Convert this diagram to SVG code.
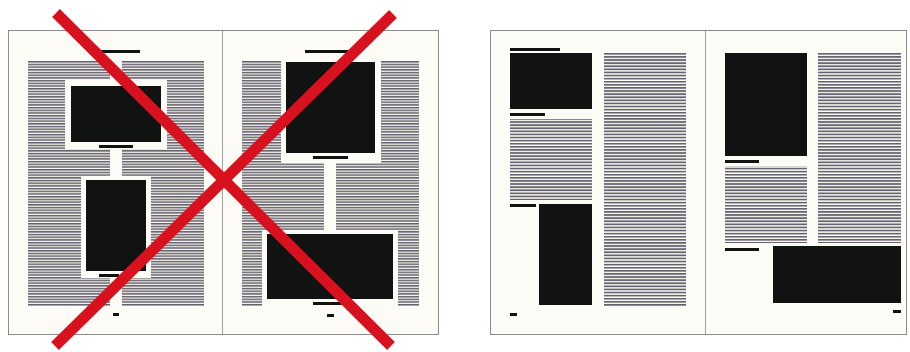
<svg xmlns="http://www.w3.org/2000/svg" width="910" height="352" viewBox="0 0 910 352">
  <defs>
    <pattern id="tA" patternUnits="userSpaceOnUse" x="0" y="61" width="20" height="2.7">
      <rect x="0" y="0" width="20" height="1.5" fill="#625d69"/>
    </pattern>
    <pattern id="tB" patternUnits="userSpaceOnUse" x="0" y="53" width="20" height="3.1">
      <rect x="0" y="0" width="20" height="1.7" fill="#67626d"/>
    </pattern>
  </defs>
  <style>
    .page{fill:#fcfbf5;stroke:#8c8c8c;stroke-width:1}
    .spine{stroke:#a0a0a0;stroke-width:1}
    .ta{fill:url(#tA)}
    .tb{fill:url(#tB)}
    .clear{fill:#fcfbf5}
    .blk{fill:#111212}
    .red{stroke:#d8111f;stroke-width:11;fill:none}
  </style>
  <rect width="910" height="352" fill="#ffffff"/>

  <g id="bad-spread">
    <rect class="page" x="8.5" y="30.5" width="430" height="304"/>
    <line class="spine" x1="222.5" y1="31" x2="222.5" y2="334"/>
    <g id="bad-left-page">
      <rect class="ta" x="28" y="61" width="82" height="245"/>
      <rect class="ta" x="122" y="61" width="82" height="245"/>
      <rect class="clear" x="65" y="80" width="102" height="69"/>
      <rect class="clear" x="81" y="176" width="70" height="102"/>
      <rect class="blk" x="100" y="50" width="40" height="3"/>
      <rect class="blk" x="71" y="86" width="90" height="56"/>
      <rect class="blk" x="99" y="145" width="34" height="3"/>
      <rect class="blk" x="86" y="180" width="60" height="91"/>
      <rect class="blk" x="99" y="274" width="20" height="3"/>
      <rect class="blk" x="113" y="313" width="6" height="3"/>
    </g>
    <g id="bad-right-page">
      <rect class="ta" x="242" y="61" width="82" height="245"/>
      <rect class="ta" x="336" y="61" width="83" height="245"/>
      <rect class="clear" x="281" y="57" width="100" height="106"/>
      <rect class="clear" x="262" y="230" width="136" height="80"/>
      <rect class="blk" x="305" y="50" width="43" height="3"/>
      <rect class="blk" x="286" y="62" width="89" height="91"/>
      <rect class="blk" x="313" y="156" width="35" height="3"/>
      <rect class="blk" x="267" y="234" width="126" height="65"/>
      <rect class="blk" x="313" y="302" width="37" height="3"/>
      <rect class="blk" x="327" y="314" width="7" height="3"/>
    </g>
    <g id="cross">
      <line class="red" x1="56" y1="13" x2="391" y2="346"/>
      <line class="red" x1="393" y1="14" x2="55" y2="346"/>
    </g>
  </g>

  <g id="good-spread">
    <rect class="page" x="490.5" y="30.5" width="416" height="304"/>
    <line class="spine" x1="705.5" y1="31" x2="705.5" y2="334"/>
    <g id="good-left-page">
      <rect class="blk" x="510" y="48" width="50" height="3"/>
      <rect class="blk" x="510" y="53" width="82" height="56"/>
      <rect class="blk" x="510" y="113" width="35" height="3"/>
      <rect class="tb" x="510" y="119" width="82" height="81"/>
      <rect class="blk" x="510" y="204" width="26" height="3"/>
      <rect class="blk" x="539" y="204" width="53" height="101"/>
      <rect class="tb" x="604" y="53" width="82" height="253"/>
      <rect class="blk" x="510" y="313" width="7" height="3"/>
    </g>
    <g id="good-right-page">
      <rect class="blk" x="725" y="53" width="82" height="103"/>
      <rect class="blk" x="725" y="160" width="34" height="3"/>
      <rect class="tb" x="725" y="166" width="82" height="77"/>
      <rect class="tb" x="818" y="53" width="83" height="190"/>
      <rect class="blk" x="725" y="248" width="34" height="3"/>
      <rect class="blk" x="773" y="246" width="128" height="57"/>
      <rect class="blk" x="893" y="310" width="8" height="3"/>
    </g>
  </g>
</svg>
